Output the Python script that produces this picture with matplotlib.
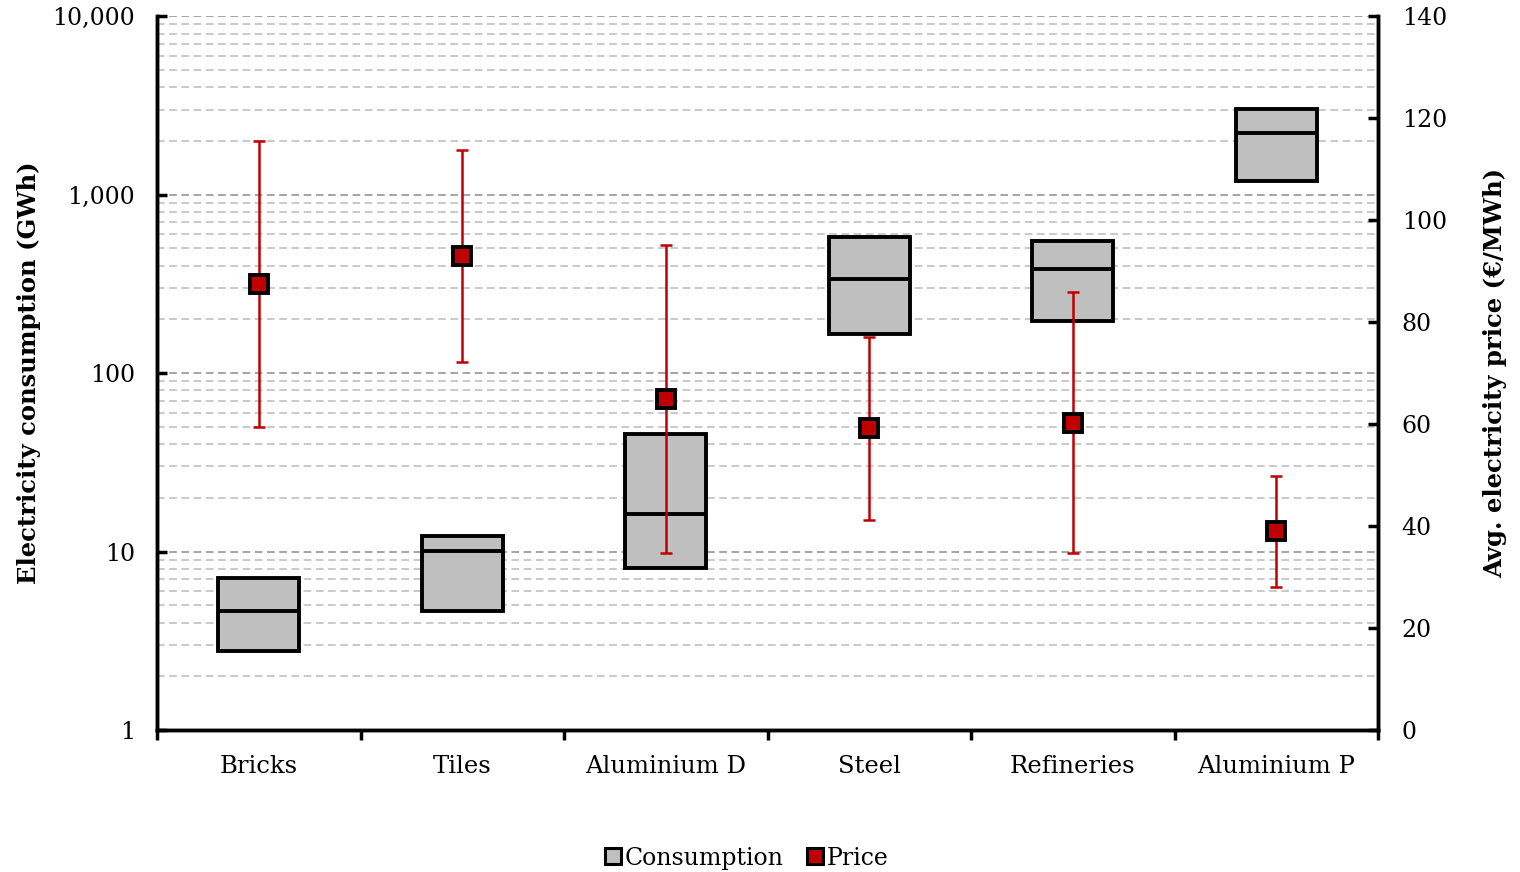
import numpy as np
import matplotlib.pyplot as plt
from matplotlib.lines import Line2D
from matplotlib.ticker import FixedLocator, LogLocator, NullFormatter, FuncFormatter

plt.rcParams['font.family'] = ['DejaVu Serif']

categories = ['Bricks', 'Tiles', 'Aluminium D', 'Steel', 'Refineries', 'Aluminium P']

# consumption (GWh): lower quartile, median, upper quartile
cons_low = [2.77, 4.64, 8.1, 165, 196, 1190]
cons_med = [4.64, 10.1, 16.2, 336, 383, 2210]
cons_high = [7.1, 12.2, 45.5, 578, 549, 3010]

# price (EUR/MWh): average, min, max
price_avg = [87.5, 93.0, 64.9, 59.2, 60.2, 39.0]
price_min = [59.4, 72.2, 34.7, 41.2, 34.7, 28.0]
price_max = [115.5, 113.8, 95.1, 77.1, 85.9, 49.8]

grey = '#BFBFBF'
red = '#C00000'
x = np.arange(len(categories))

fig = plt.figure(figsize=(15.2, 8.72), dpi=100)
ax = fig.add_axes([0.1033, 0.1628, 0.8033, 0.8185])
ax2 = ax.twinx()

ax.set_yscale('log')
ax.set_ylim(1, 10000)
ax.set_xlim(-0.5, 5.5)

# boxes
heights = np.array(cons_high) - np.array(cons_low)
ax.bar(x, heights, bottom=cons_low, width=0.4, color=grey,
       edgecolor='black', linewidth=2.8, zorder=3)
ax.hlines(cons_med, x - 0.2, x + 0.2, colors='black', linewidth=2.8, zorder=4)

# grid
ax.yaxis.set_minor_locator(LogLocator(base=10, subs=np.arange(2, 10)))
ax.yaxis.set_minor_formatter(NullFormatter())
ax.grid(True, which='major', axis='y', color='#8C8C8C', linestyle=(0, (5, 3)), linewidth=1.1, zorder=0)
ax.grid(True, which='minor', axis='y', color='#BBBBBB', linestyle=(0, (5, 3)), linewidth=1.1, zorder=0)
ax.set_axisbelow(True)

ax.yaxis.set_major_formatter(FuncFormatter(lambda v, p: '{:,.0f}'.format(v)))
ax.tick_params(axis='y', which='major', direction='in', length=7, width=2.5, labelsize=17, pad=16)
ax.tick_params(axis='y', which='minor', length=0)

# x axis: ticks at boundaries, labels at centres
ax.xaxis.set_major_locator(FixedLocator(np.arange(-0.5, 6, 1.0)))
ax.xaxis.set_minor_locator(FixedLocator(x))
ax.set_xticklabels([''] * 7)
ax.set_xticklabels(categories, minor=True)
ax.tick_params(axis='x', which='major', direction='out', length=7, width=2.5)
ax.tick_params(axis='x', which='minor', length=0, labelsize=17.5, pad=18)

for s in ['top']:
    ax.spines[s].set_visible(False)
    ax2.spines[s].set_visible(False)
for s in ['left', 'bottom', 'right']:
    ax.spines[s].set_linewidth(2.5)
    ax2.spines[s].set_linewidth(2.5)

ax.set_ylabel('Electricity consumption (GWh)', fontsize=17.5, fontweight='bold', labelpad=8)

# price
ax2.set_ylim(0, 140)
ax2.set_yticks(np.arange(0, 141, 20))
ax2.tick_params(axis='y', direction='in', length=7, width=2.5, labelsize=17, pad=17)
yerr = [np.array(price_avg) - np.array(price_min), np.array(price_max) - np.array(price_avg)]
ax2.errorbar(x, price_avg, yerr=yerr, fmt='none', ecolor=red, elinewidth=1.8,
             capsize=4.5, capthick=1.8, zorder=5)
ax2.plot(x, price_avg, linestyle='none', marker='s', markersize=12.5,
         markerfacecolor=red, markeredgecolor='black', markeredgewidth=2.8, zorder=6)
ax2.set_ylabel('Avg. electricity price (€/MWh)', fontsize=17.5, fontweight='bold', labelpad=26)

handles = [
    Line2D([], [], linestyle='none', marker='s', markersize=12, markerfacecolor=grey,
           markeredgecolor='black', markeredgewidth=2.2),
    Line2D([], [], linestyle='none', marker='s', markersize=12, markerfacecolor=red,
           markeredgecolor='black', markeredgewidth=2.2),
]
fig.legend(handles, ['Consumption', 'Price'], loc='center', bbox_to_anchor=(0.49, 0.016),
           ncol=2, frameon=False, fontsize=17, handletextpad=0.0, columnspacing=0.8,
           handlelength=1.0)

fig.savefig('out.png', dpi=100)
